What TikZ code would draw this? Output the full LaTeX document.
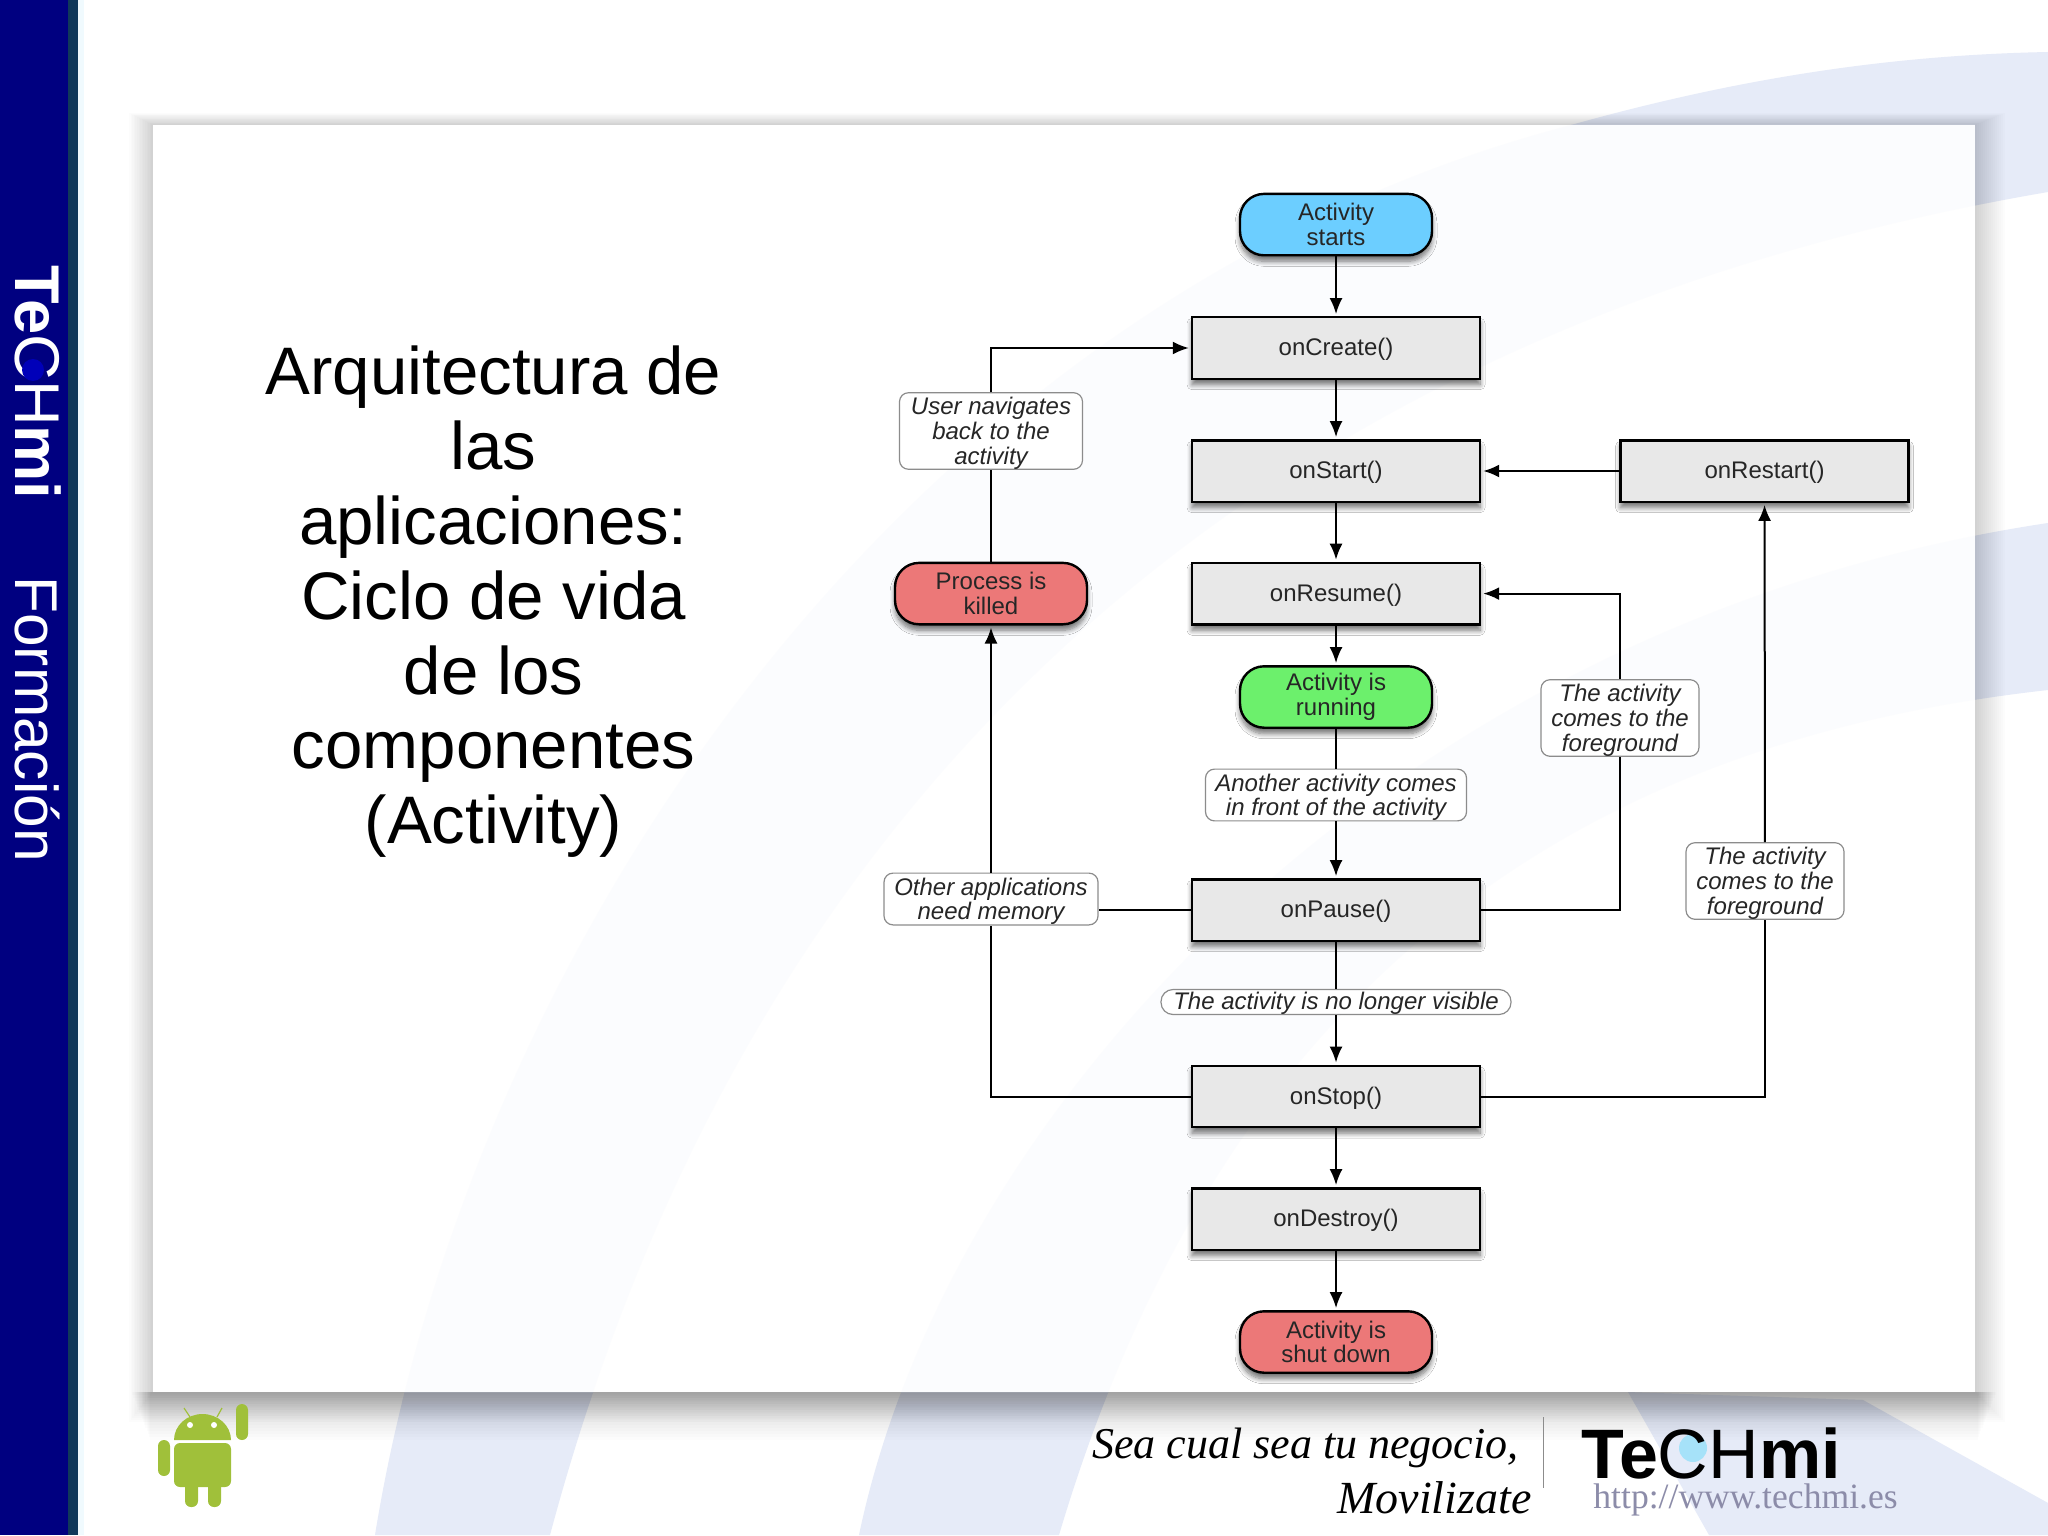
\documentclass[tikz,border=0pt]{standalone}
\usepackage{fontspec}
\setmainfont{Liberation Sans}
\newfontfamily\urlface{Liberation Serif}
\usetikzlibrary{arrows.meta,shapes,calc,shadows.blur}
\definecolor{navybar}{RGB}{0,0,128}
\definecolor{baredge}{RGB}{16,56,90}
\definecolor{bandblue}{RGB}{230,235,248}
\definecolor{droid}{RGB}{160,192,58}
\definecolor{startblue}{RGB}{108,206,255}
\definecolor{runninggreen}{RGB}{108,240,108}
\definecolor{deadred}{RGB}{236,120,120}
\tikzstyle{boxstate}=[rectangle,draw=black,line width=1.2pt,fill=black!9,minimum width=144pt,minimum height=30.7pt,inner sep=0pt,font=\fontsize{12}{12.4}\selectfont,text=black!85,
  execute at begin node={\rule{0pt}{10pt}},
  blur shadow={shadow xshift=0pt,shadow yshift=-3pt,shadow blur radius=2.5pt,shadow blur steps=8,shadow opacity=55}]
\tikzstyle{pillstate}=[boxstate,rounded corners=12pt,minimum width=96pt,align=center,execute at begin node={}]
\tikzstyle{edgelabel}=[rectangle,rounded corners=4.5pt,draw=black!45,line width=.6pt,fill=white,inner sep=0pt,align=center,font=\fontsize{12}{12.4}\selectfont\itshape,text=black!85]
\tikzstyle{flowedge}=[draw,line width=1pt,-{Latex[length=8pt,width=6.5pt]},shorten >=1pt]
\tikzstyle{flowline}=[draw,line width=1pt]
\newcommand{\bandone}{(375,1535) .. controls (470,950) and (900,300) .. (1571,125) .. controls (1750,75) and (1900,55) .. (2048,52) -- (2048,192) .. controls (1300,320) and (760,750) .. (550,1535) -- cycle}
\newcommand{\bandtwo}{(859,1535) .. controls (950,1100) and (1400,620) .. (2048,523) -- (2048,690) .. controls (1600,740) and (1230,960) .. (1059,1535) -- cycle}
\newcommand{\bandthree}{(1628,1392) -- (1863,1400) -- (2048,1503) -- (2048,1535) -- (1709,1535) -- cycle}
\begin{document}
\begin{tikzpicture}[x=.5pt,y=-.5pt]
   \useasboundingbox (0,0) rectangle (2048,1535);

   % slide background
   \fill[white] (0,0) rectangle (2048,1535);
   \foreach \band in {\bandone,\bandtwo,\bandthree}
      \fill[bandblue] \band;
   \foreach \grow in {2,4,...,30}
      \fill[black,opacity=.011] (153-.8*\grow,125-.4*\grow) rectangle (1975+\grow,1392+\grow);
   \foreach \grow in {3,6,...,48}
      \fill[black,opacity=.012] (131+.4*\grow,1392) rectangle (1997-.4*\grow,1392+\grow);
   \fill[white] (153,125) rectangle (1975,1392);
   \begin{scope}
      \clip (153,125) rectangle (1975,1392);
      \foreach \band in {\bandone,\bandtwo}
         \fill[bandblue,opacity=.12] \band;
   \end{scope}

   % side bar
   \fill[cyan!6] (78,0) rectangle (84,1535);
   \fill[navybar] (0,0) rectangle (68,1535);
   \fill[baredge] (68,0) rectangle (78,1535);
   \node[rotate=-90,anchor=base west,inner sep=0pt,text=white,font=\fontsize{31.6}{32}\selectfont] (sidelogo) at (15,265) {\textbf{Te}CH\textbf{mi}};
   \fill[blue!45!navybar] (33,370) circle (11);
   \node[rotate=-90,anchor=base west,inner sep=0pt,text=white,font=\fontsize{30.2}{32}\selectfont] (sidetext) at (15,576) {Formación};

   % title
   \node[align=center,inner sep=0pt,font=\fontsize{33.6}{37.4}\selectfont] (title) at (493.5,602) {Arquitectura de\\las\\aplicaciones:\\Ciclo de vida\\de los\\componentes\\(Activity)};

   % states of the activity
   \foreach \pos/ \name/ \txt in {{(1336,348)/create/onCreate()},{(1336,471)/start/onStart()},{(1336,593.6)/resume/onResume()},{(1336,910)/pause/onPause()},{(1336,1096.5)/stop/onStop()},{(1336,1219)/destroy/onDestroy()},{(1764.5,471)/restart/onRestart()}}
      \node[boxstate] (\name) at \pos {\txt};

   \foreach \pos/ \name/ \tint/ \txt in {{(1336,224.6)/begin/startblue/Activity\\starts},{(1336,697)/running/runninggreen/Activity is\\running},{(1336,1342)/shut/deadred/Activity is\\shut down},{(991,593.6)/killed/deadred/Process is\\killed}}
      \node[pillstate,fill=\tint] (\name) at \pos {\txt};

   % labels on the connectors
   \foreach \pos/ \name/ \wide/ \high/ \txt in {{(991,431)/navback/183/73/User navigates\\back to the\\activity},{(1336,795)/infront/261/50/Another activity comes\\in front of the activity},{(991,899)/memory/214/48/Other applications\\ need memory},{(1620,718)/fgone/158/74/The activity\\comes to the\\foreground},{(1765,881)/fgtwo/158/74/The activity\\comes to the\\foreground}}
      \node[edgelabel,minimum width=.5*\wide pt,minimum height=.5*\high pt] (\name) at \pos {\rule{0pt}{11pt}\txt};
   \node[edgelabel,rounded corners=6pt,minimum width=175pt,minimum height=12.5pt] (hidden) at (1336,1002) {\rule{0pt}{10pt}The activity is no longer visible};

   % connect states with edges
   \foreach \source/ \dest in {begin/create,create/start,start/resume,resume/running,infront/pause,hidden/stop,stop/destroy,destroy/shut,restart/start,memory/killed,fgtwo/restart}
      \path[flowedge] (\source) -- (\dest);
   \foreach \source/ \dest in {running/infront,pause/hidden,killed/navback}
      \path[flowline] (\source) -- (\dest);

   \path[flowedge] (navback) |- (create);
   \path[flowedge] (fgone) |- (resume);
   \path[flowline] (pause) -| (fgone);
   \path[flowline] (pause) -- (pause -| memory.east);
   \path[flowline] (stop) -| (memory);
   \path[flowline] (stop) -| (fgtwo);

   % android
   \begin{scope}[droid]
      \fill (174,1440) arc[start angle=180,end angle=360,x radius=28.5,y radius=26] -- cycle;
      \fill[rounded corners=3pt] (174,1443) rectangle (231,1487);
      \fill[rounded corners=3pt] (185,1470) rectangle (198,1507);
      \fill[rounded corners=3pt] (208,1470) rectangle (221,1507);
      \fill[rounded corners=3pt] (158,1440) rectangle (170,1476);
      \fill[rounded corners=3pt] (236,1404) rectangle (248,1440);
      \draw[line width=.6pt] (184,1408) -- (190,1417);
      \draw[line width=.6pt] (222,1408) -- (217,1417);
      \fill[white] (190,1425) circle (3) (214,1425) circle (3);
   \end{scope}

   % footer
   \node[anchor=base east,inner sep=0pt,font=\urlface\itshape\fontsize{22}{24}\selectfont] (slogan) at (1519,1458) {Sea cual sea tu negocio,};
   \node[anchor=base east,inner sep=0pt,font=\urlface\itshape\fontsize{23}{24}\selectfont] (movil) at (1532,1513) {Movilizate};
   \draw[black!45,line width=.5pt] (1543,1417) -- (1543,1488);
   \fill[cyan!35!white] (1693,1448) circle (14);
   \node[anchor=base west,inner sep=0pt,font=\fontsize{35}{36}\selectfont] (logo) at (1581,1478) {\textbf{Te}CH\textbf{mi}};
   \node[anchor=base west,inner sep=0pt,text=blue!25!black!45,font=\urlface\fontsize{17.8}{18}\selectfont] (site) at (1593,1508) {http://www.techmi.es};
\end{tikzpicture}
\end{document}
